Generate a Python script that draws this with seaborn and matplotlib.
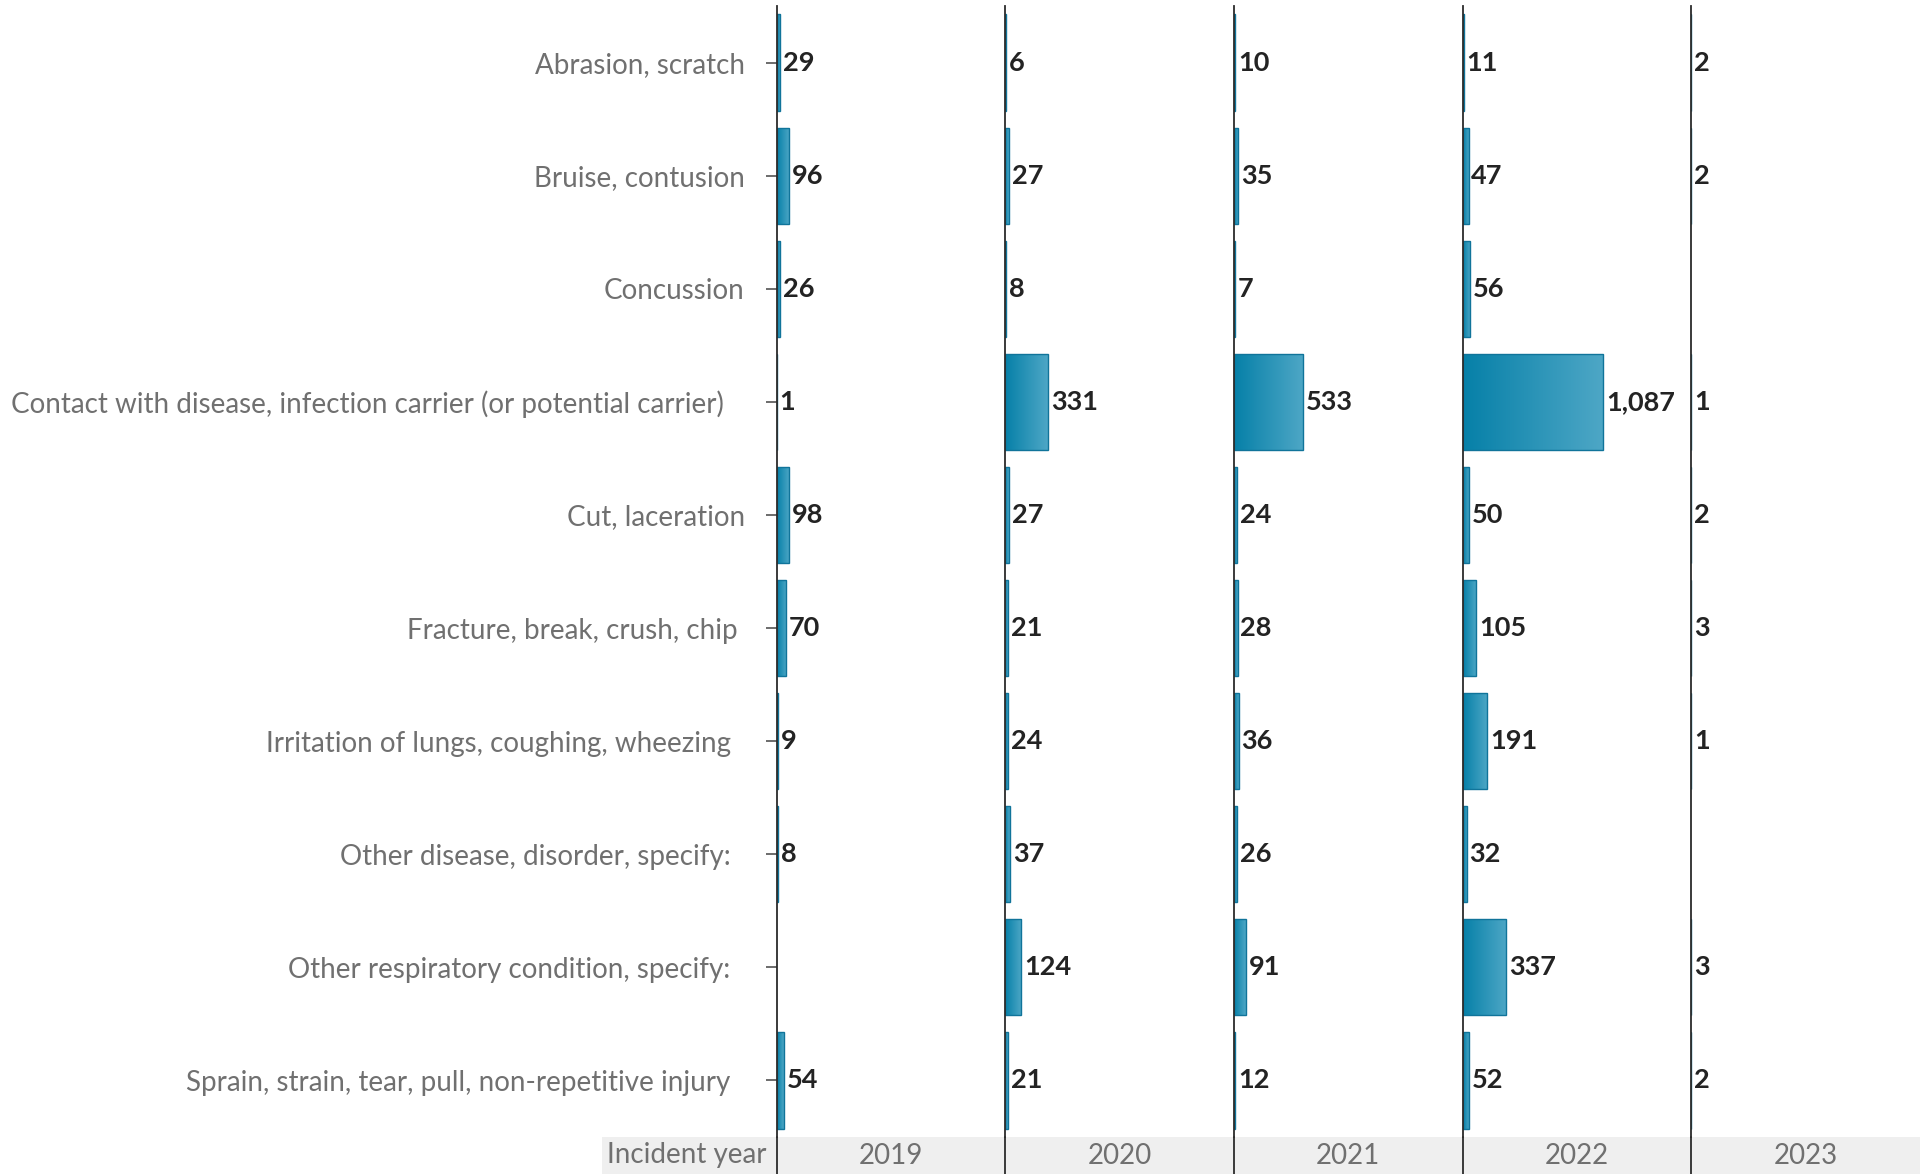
import numpy as np
import pandas as pd
import matplotlib
matplotlib.use("Agg")
import matplotlib.pyplot as plt
import seaborn as sns
from matplotlib.colors import LinearSegmentedColormap
from matplotlib.lines import Line2D

sns.set_theme(style="white")
plt.rcParams["font.family"] = ["Lato", "DejaVu Sans"]

# Data
categories = [
    "Abrasion, scratch",
    "Bruise, contusion",
    "Concussion",
    "Contact with disease, infection carrier (or potential carrier)",
    "Cut, laceration",
    "Fracture, break, crush, chip",
    "Irritation of lungs, coughing, wheezing",
    "Other disease, disorder, specify:",
    "Other respiratory condition, specify:",
    "Sprain, strain, tear, pull, non-repetitive injury",
]
# trailing spaces mimic the ragged right edge of the labels in the original
label_pad = [0, 0, 0, 3, 0, 1, 2, 2, 2, 2]
years = ["2019", "2020", "2021", "2022", "2023"]
counts_2019 = [29, 96, 26, 1, 98, 70, 9, 8, np.nan, 54]
counts_2020 = [6, 27, 8, 331, 27, 21, 24, 37, 124, 21]
counts_2021 = [10, 35, 7, 533, 24, 28, 36, 26, 91, 12]
counts_2022 = [11, 47, 56, 1087, 50, 105, 191, 32, 337, 52]
counts_2023 = [2, 2, np.nan, 1, 2, 3, 1, np.nan, 3, 2]

all_counts = [counts_2019, counts_2020, counts_2021, counts_2022, counts_2023]
df = pd.DataFrame({
    "category": categories * len(years),
    "year": np.repeat(years, len(categories)),
    "count": np.concatenate(all_counts),
})

DARK = "#0680a8"
LIGHT = "#4ea7c6"
EDGE = "#10749a"
SPINE = "#2b2b2b"
LABEL_GREY = "#707070"
NUM_COLOR = "#232323"
grad = LinearSegmentedColormap.from_list("bar_grad", [DARK, LIGHT])

W, H = 1927, 1174
fig = plt.figure(figsize=(W / 100, H / 100), dpi=100)

left = 776.7 / W
pw = 228.6 / W
bottom = 37 / H
top = 1 - 6 / H
xmax = 1765

for i, year in enumerate(years):
    ax = fig.add_axes([left + i * pw, bottom, pw, top - bottom])
    sub = df[(df["year"] == year) & df["count"].notna()]
    sns.barplot(data=sub, x="count", y="category", order=categories,
                orient="h", color=DARK, saturation=1, width=0.85,
                edgecolor=EDGE, linewidth=1, ax=ax)

    # left-to-right gradient inside each bar
    for p in ax.patches:
        x0, y0 = p.get_x(), p.get_y()
        w, h = p.get_width(), p.get_height()
        if not np.isfinite(w) or w <= 0:
            continue
        im = ax.imshow(np.linspace(0, 1, 256).reshape(1, -1), cmap=grad,
                       extent=[x0, x0 + w, y0 + h, y0], aspect="auto",
                       interpolation="bicubic", zorder=p.get_zorder() + 0.1)
        im.set_clip_path(p)
        p.set_facecolor("none")
        p.set_zorder(p.get_zorder() + 0.2)

    ax.bar_label(ax.containers[0], fmt="{:,.0f}", padding=2,
                 fontsize=19.5, fontweight="bold", color=NUM_COLOR)

    ax.set_xlim(0, xmax)
    ax.set_ylim(len(categories) - 0.5, -0.5)
    ax.set_xlabel("")
    ax.set_ylabel("")
    ax.set_xticks([])
    for s in ["top", "right", "bottom"]:
        ax.spines[s].set_visible(False)
    ax.spines["left"].set_color(SPINE)
    ax.spines["left"].set_linewidth(1.3)
    ax.patch.set_alpha(0)

    if i == 0:
        ax.set_yticks(range(len(categories)))
        ax.set_yticklabels([c + " " * n for c, n in zip(categories, label_pad)],
                           fontsize=20, color=LABEL_GREY)
        ax.tick_params(axis="y", left=True, length=8, width=1.1,
                       color="#444444", pad=15)
    else:
        ax.tick_params(axis="y", left=False, labelleft=False)

# grey "Incident year" strip at the bottom
strip_l = 602 / W
strip_r = 1920 / W
strip = fig.add_axes([strip_l, 0, strip_r - strip_l, bottom], zorder=-1)
strip.set_facecolor("#efefef")
strip.set_xticks([])
strip.set_yticks([])
for s in strip.spines.values():
    s.set_visible(False)

fig.text((strip_l + left) / 2 - 3 / W, bottom / 2, "Incident year",
         ha="center", va="center", fontsize=20, color=LABEL_GREY)
for i, year in enumerate(years):
    fig.text(left + (i + 0.5) * pw, bottom / 2, year, ha="center",
             va="center", fontsize=20, color=LABEL_GREY)
    xl = left + i * pw
    fig.add_artist(Line2D([xl, xl], [0, bottom], color=SPINE, lw=1.3))

fig.savefig("out.png", dpi=100)
